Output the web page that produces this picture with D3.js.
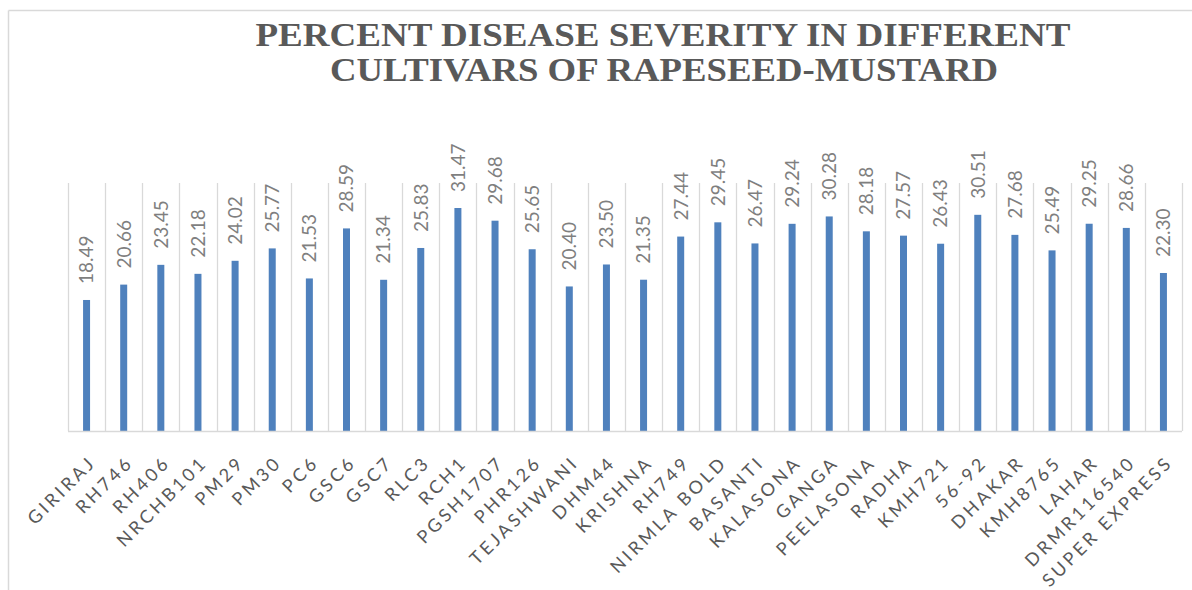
<!DOCTYPE html>
<html>
<head>
<meta charset="utf-8">
<script src="https://cdn.jsdelivr.net/npm/d3@7/dist/d3.min.js"></script>
<style>
  html, body { margin: 0; padding: 0; background: #ffffff; }
  svg { display: block; }
</style>
</head>
<body>
<svg id="chart" width="1192" height="590"></svg>
<script>
// Cultivars and their percent disease severity
const cultivars = [
  "GIRIRAJ", "RH746", "RH406", "NRCHB101", "PM29", "PM30", "PC6", "GSC6", "GSC7", "RLC3",
  "RCH1", "PGSH1707", "PHR126", "TEJASHWANI", "DHM44", "KRISHNA", "RH749", "NIRMLA BOLD",
  "BASANTI", "KALASONA", "GANGA", "PEELASONA", "RADHA", "KMH721", "56-92", "DHAKAR",
  "KMH8765", "LAHAR", "DRMR116540", "SUPER EXPRESS"
];
const severity = [
  18.49, 20.66, 23.45, 22.18, 24.02, 25.77, 21.53, 28.59, 21.34, 25.83,
  31.47, 29.68, 25.65, 20.40, 23.50, 21.35, 27.44, 29.45,
  26.47, 29.24, 30.28, 28.18, 27.57, 26.43, 30.51, 27.68,
  25.49, 29.25, 28.66, 22.30
];
const titleLines = [
  "PERCENT DISEASE SEVERITY IN DIFFERENT",
  "CULTIVARS OF RAPESEED-MUSTARD"
];
const yMax = 35;

const data = cultivars.map((c, i) => ({ name: c, value: severity[i] }));

const svg = d3.select("#chart");

// outer chart frame (top and left edges visible)
svg.append("line").attr("x1", 8.5).attr("x2", 1192).attr("y1", 10.5).attr("y2", 10.5)
  .attr("stroke", "#d9d9d9").attr("stroke-width", 1.5);
svg.append("line").attr("x1", 8.5).attr("x2", 8.5).attr("y1", 10.5).attr("y2", 590)
  .attr("stroke", "#d9d9d9").attr("stroke-width", 1.5);

// title
const title = svg.append("g")
  .attr("font-family", "'Liberation Serif', 'Times New Roman', serif")
  .attr("font-weight", "bold")
  .attr("fill", "#595959")
  .attr("text-anchor", "middle");
title.append("text").attr("x", 663).attr("y", 46)
  .attr("font-size", 33).attr("textLength", 815).attr("lengthAdjust", "spacingAndGlyphs")
  .text(titleLines[0]);
title.append("text").attr("x", 664).attr("y", 81)
  .attr("font-size", 33).attr("textLength", 668).attr("lengthAdjust", "spacingAndGlyphs")
  .text(titleLines[1]);

// scales
const x = d3.scaleBand().domain(cultivars).range([68, 1182]).padding(0);
const y = d3.scaleLinear().domain([0, yMax]).range([431, 183]);

// vertical category separators
const edges = d3.range(cultivars.length + 1).map(i => 68 + i * x.step());
svg.append("g").selectAll("line").data(edges).join("line")
  .attr("x1", d => Math.round(d) + 0.5).attr("x2", d => Math.round(d) + 0.5)
  .attr("y1", y(yMax)).attr("y2", y(0))
  .attr("stroke", "#d9d9d9").attr("stroke-width", 1.3);

// bars
const barW = 7;
svg.append("g").selectAll("rect").data(data).join("rect")
  .attr("x", d => x(d.name) + x.bandwidth() / 2 - barW / 2)
  .attr("width", barW)
  .attr("y", d => y(d.value))
  .attr("height", d => y(0) - y(d.value))
  .attr("fill", "#4f81bd");

// category axis line
svg.append("line").attr("x1", 68).attr("x2", 1182)
  .attr("y1", y(0) + 0.5).attr("y2", y(0) + 0.5)
  .attr("stroke", "#d9d9d9").attr("stroke-width", 1.5);

// value labels, rotated to read upward
svg.append("g").selectAll("text").data(data).join("text")
  .attr("transform", d => `translate(${x(d.name) + x.bandwidth() / 2},${y(d.value) - 16}) rotate(-90)`)
  .attr("dy", "0.36em")
  .attr("font-family", "Lato, 'Open Sans', sans-serif")
  .attr("font-size", 19)
  .attr("fill", "#7f7f7f")
  .text(d => d.value.toFixed(2));

// category labels at -45 degrees
svg.append("g").selectAll("text").data(data).join("text")
  .attr("transform", d => `translate(${x(d.name) + x.bandwidth() / 2 + 6},${y(0) + 28}) rotate(-45)`)
  .attr("text-anchor", "end")
  .attr("dy", "0.36em")
  .attr("font-family", "Lato, 'Open Sans', sans-serif")
  .attr("font-size", 18)
  .attr("letter-spacing", 3.2)
  .attr("fill", "#595959")
  .text(d => d.name);
</script>
</body>
</html>
